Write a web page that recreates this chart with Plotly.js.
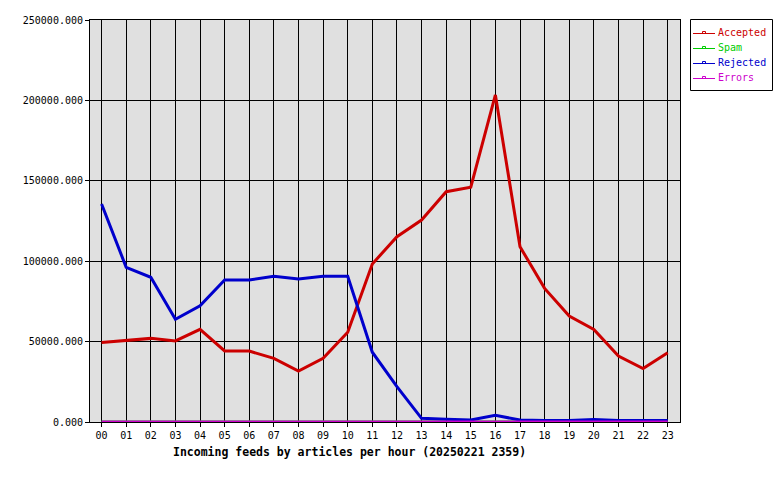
<!DOCTYPE html>
<html><head><meta charset="utf-8">
<script src="https://cdn.plot.ly/plotly-3.0.1.min.js"></script>
<style>html,body{margin:0;padding:0;background:#fff}#chart{width:780px;height:480px}</style>
</head><body><div id="chart"></div>
<script>
const hours = ["00","01","02","03","04","05","06","07","08","09","10","11","12","13","14","15","16","17","18","19","20","21","22","23"];
const accepted = [49500,50800,52000,50400,57600,44200,44100,39600,31700,39600,55800,98300,115200,125600,143200,146000,203400,109000,83100,65900,57600,41000,33200,43100];
const spam = [0,0,0,0,0,0,0,0,0,0,0,0,0,0,0,0,0,0,0,0,0,0,0,0];
const rejected = [135600,96200,90000,63900,72200,88300,88300,90600,88900,90600,90600,43400,22000,2300,1700,1200,4200,1200,1000,1000,1500,1000,1000,1000];
const errors = [0,0,0,0,0,0,0,0,0,0,0,0,0,0,0,0,0,0,0,0,0,0,0,0];
const seriesNames = ["Accepted","Spam","Rejected","Errors"];
const seriesColors = ["#cc0000","#00cc00","#0000cc","#cc00cc"];
const yTicks = [0,50000,100000,150000,200000,250000];
const titleText = "Incoming feeds by articles per hour (20250221 2359)";

const mono = "DejaVu Sans Mono, monospace";
const W = 780, H = 480, L = 90, R = 100, T = 20, B = 58;
const pw = W - L - R, ph = H - T - B;
const px = v => (v - L) / pw;           // pixel -> paper x
const py = v => (H - B - v) / ph;       // pixel -> paper y
const xs = hours.map((h,i)=>i);
const values = [accepted, spam, rejected, errors];
const data = values.map((y,i)=>({x: xs, y: y, name: seriesNames[i], type:'scatter', mode:'lines',
  line:{color: seriesColors[i], width: 3}, showlegend:false}));

const shapes = [{type:'rect', xref:'paper', yref:'paper', x0:px(690.5), x1:px(772.5), y0:py(19.5), y1:py(90.5),
  line:{color:'#000', width:1}, fillcolor:'#fff', layer:'above'}];
const annotations = [{text:'<b>'+titleText+'</b>', xref:'paper', yref:'paper',
    x:0.439, y:py(452), xanchor:'center', yanchor:'middle', showarrow:false,
    font:{family:mono, size:11.5, color:'#000'}}];
const rowY = [33.5, 48.5, 63.5, 78.5];
seriesNames.forEach((n,i)=>{
  shapes.push({type:'line', xref:'paper', yref:'paper', x0:px(693), x1:px(715), y0:py(rowY[i]), y1:py(rowY[i]),
    line:{color:seriesColors[i], width:1}, layer:'above'});
  shapes.push({type:'rect', xref:'paper', yref:'paper', x0:px(702.5), x1:px(705.5), y0:py(rowY[i]), y1:py(rowY[i]-2),
    line:{color:seriesColors[i], width:1}, fillcolor:'rgba(0,0,0,0)', layer:'above'});
  annotations.push({text:n, xref:'paper', yref:'paper', x:px(716), y:py(rowY[i]-1), xanchor:'left', yanchor:'middle',
    showarrow:false, font:{family:mono, size:10, color:seriesColors[i]}});
});

const layout = {
  width:W, height:H,
  margin:{l:L, r:R, t:T, b:B, autoexpand:false},
  paper_bgcolor:'#ffffff', plot_bgcolor:'#e0e0e0',
  font:{family: mono, size:10, color:'#000'},
  showlegend:false,
  xaxis:{range:[-0.47,23.5], tickmode:'array', tickvals: xs, ticktext: hours,
    showgrid:true, gridcolor:'#000', gridwidth:1, zeroline:false,
    showline:true, mirror:true, linecolor:'#000', linewidth:1,
    ticks:'outside', ticklen:4, tickcolor:'#000', fixedrange:true},
  yaxis:{range:[0,250000], tickmode:'array', tickvals: yTicks,
    tickformat:'.3f', showgrid:true, gridcolor:'#000', gridwidth:1, zeroline:false,
    showline:true, mirror:true, linecolor:'#000', linewidth:1,
    ticks:'outside', ticklen:4, tickcolor:'#000', fixedrange:true},
  shapes: shapes,
  annotations: annotations
};
Plotly.newPlot('chart', data, layout, {displayModeBar:false, staticPlot:true});
</script></body></html>
